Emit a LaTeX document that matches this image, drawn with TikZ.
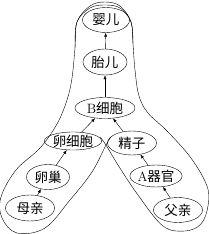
\documentclass[tikz,border=0pt]{standalone}
\usepackage{fontspec}
\newfontfamily\cjk{Noto Sans CJK SC}
\usetikzlibrary{arrows.meta,shapes.geometric}

\begin{document}
\begin{tikzpicture}[
  x=1pt,y=-1pt,>={Latex[length=4pt,width=3pt]},
  stage/.style={draw,ellipse,inner sep=0pt,font=\cjk\fontsize{13.5}{15}\selectfont},
  every edge/.style={draw,->}]
\useasboundingbox (0,0) rectangle (209,234);
\node[stage,minimum width=47,minimum height=25] (baby) at (106,20) {婴儿};
\node[stage,minimum width=44,minimum height=26] (fetus) at (105,62) {胎儿};
\node[stage,minimum width=60,minimum height=21] (bcell) at (105,108) {\textrm{B}细胞};
\node[stage,minimum width=57,minimum height=18] (egg) at (73,141) {卵细胞};
\node[stage,minimum width=49,minimum height=24] (sperm) at (132,143) {精子};
\node[stage,minimum width=43,minimum height=25] (ovary) at (48,177) {卵巢};
\node[stage,minimum width=52,minimum height=22] (organ) at (156,176) {\textrm{A}器官};
\node[stage,minimum width=49,minimum height=26] (mother) at (30,208) {母亲};
\node[stage,minimum width=49,minimum height=25] (father) at (178,210) {父亲};
\draw (mother) edge (ovary) (ovary) edge (egg) (egg) edge (bcell);
\draw (father) edge (organ) (organ) edge (sperm) (sperm) edge (bcell);
\draw (bcell) edge (fetus) (fetus) edge (baby);
% the two lobes, crossing below B细胞
\draw plot[smooth,tension=0.6] coordinates {(111,137) (106,145) (92,172) (70,200)
  (45,228) (17,233) (2,218) (1,197) (16,170) (40,148) (57,124) (67,100) (72,78)
  (75,48) (77,22) (90,6) (105,2) (120,6) (131,22) (133,44)};
\draw plot[smooth,tension=0.6] coordinates {(100,137) (106,145) (118,165) (138,195)
  (163,226) (185,231) (201,224) (208,206) (207,186) (191,158) (167,131) (148,113)
  (139,96) (135,70) (133,44) (131,22) (120,8) (105,5) (90,8) (77,22) (75,48)};
\end{tikzpicture}
\end{document}
